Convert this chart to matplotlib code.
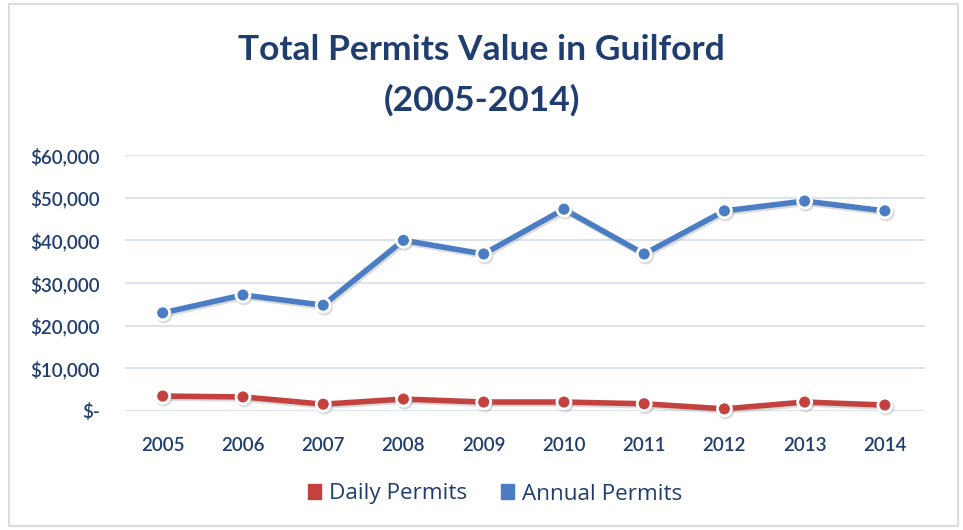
import matplotlib.pyplot as plt
import matplotlib.patheffects as pe
from matplotlib.patches import Rectangle
from matplotlib.ticker import FuncFormatter

years = ["2005", "2006", "2007", "2008", "2009", "2010", "2011", "2012", "2013", "2014"]
annual_permits = [23000, 27200, 24800, 40000, 36800, 47300, 36800, 46900, 49200, 46900]
daily_permits = [3500, 3300, 1600, 2800, 2100, 2100, 1700, 500, 2100, 1400]
y_ticks = [0, 10000, 20000, 30000, 40000, 50000, 60000]

NAVY = "#1f3d6e"
BLUE = "#4a7dc4"
RED = "#c3423f"
GRID = "#dbe3ee"

plt.rcParams["font.family"] = ["Lato", "DejaVu Sans"]


def money(v, _pos):
    return "$-" if v == 0 else f"${v:,.0f}"


fig = plt.figure(figsize=(9.63, 5.30), dpi=100)
fig.patches.append(Rectangle((9 / 963, 4 / 530), 949 / 963, 522 / 530,
                             transform=fig.transFigure, fill=False,
                             edgecolor="#dcdcdc", linewidth=1.5))

ax = fig.add_axes([125 / 963, 1 - 411 / 530, 800 / 963, 256 / 530])
x = list(range(len(years)))

shadow = [pe.SimpleLineShadow(offset=(1, -1.5), shadow_color="#999999", alpha=0.35), pe.Normal()]
for values, color, label in [(daily_permits, RED, "Daily Permits"),
                             (annual_permits, BLUE, "Annual Permits")]:
    ax.plot(x, values, color=color, linewidth=4, solid_capstyle="round",
            marker="o", markersize=10, markerfacecolor=color,
            markeredgecolor="white", markeredgewidth=2,
            clip_on=False, zorder=3, path_effects=shadow, label=label)

ax.set_xlim(-0.47, 9.5)
ax.set_ylim(0, 60000)
ax.set_xticks(x)
ax.set_xticklabels(years)
ax.set_yticks(y_ticks)
ax.yaxis.set_major_formatter(FuncFormatter(money))
ax.grid(axis="y", color=GRID, linewidth=1.5)
ax.set_axisbelow(True)
for s in ax.spines.values():
    s.set_visible(False)
ax.tick_params(length=0, colors=NAVY, labelsize=13.5)
ax.tick_params(axis="x", pad=19)
ax.tick_params(axis="y", pad=18)
for lbl in ax.get_xticklabels() + ax.get_yticklabels():
    lbl.set_fontweight("semibold")

fig.text(0.5, 1 - 50 / 530, "Total Permits Value in Guilford", ha="center", va="center",
         fontsize=25.5, fontweight="bold", color=NAVY)
fig.text(0.5, 1 - 100 / 530, "(2005-2014)", ha="center", va="center",
         fontsize=25.5, fontweight="bold", color=NAVY)

handles = [Rectangle((0, 0), 1, 1, color=RED), Rectangle((0, 0), 1, 1, color=BLUE)]
fig.legend(handles, ["Daily Permits", "Annual Permits"], loc="center",
           bbox_to_anchor=(495 / 963, 1 - 494 / 530), ncol=2, frameon=False,
           prop={"family": ["Open Sans", "DejaVu Sans"], "size": 16.2},
           handlelength=0.6, handleheight=0.6, handletextpad=0.35,
           columnspacing=1.5, labelcolor=NAVY)

fig.savefig("out.png", dpi=100)
